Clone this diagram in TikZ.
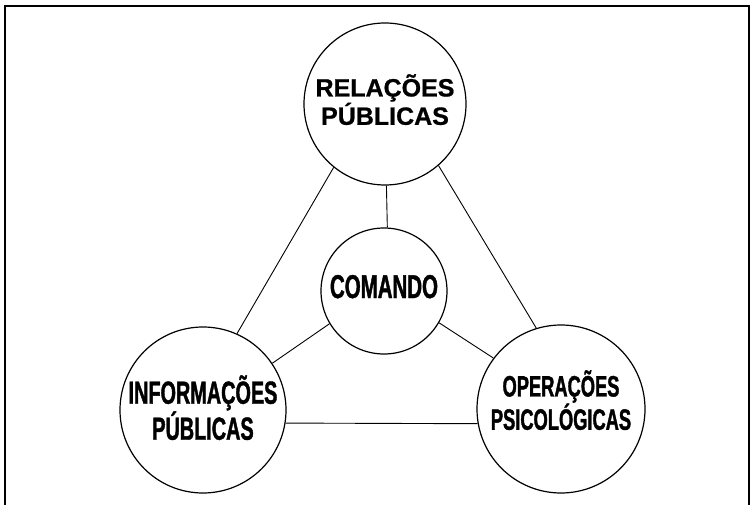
\documentclass[tikz,border=0pt]{standalone}
\usepackage{fontspec}
\newfontfamily\wideface{Liberation Sans}[FakeBold=0.8]
\newfontfamily\narrowface{Liberation Sans}[FakeStretch=0.62, FakeBold=1.2]
\usetikzlibrary{positioning}
\tikzset{
  every picture/.style={line width=0.9pt},
  area/.style={draw, circle, inner sep=0pt, align=center, line width=1.2pt},
  frame/.style={line width=2pt},
  link/.style={line width=0.9pt},
  every node/.style={font=\narrowface\bfseries}
}

\begin{document}
\begin{tikzpicture}[x=1pt, y=-1pt]
    \useasboundingbox (0,0) rectangle (752,505);
    \draw[frame] (5,506) |- (749,6) -- (749,506);

    \node[area, minimum size=162pt, text depth=9pt, font=\wideface\bfseries\fontsize{25}{25}\selectfont] (rp) at (385,104) {RELAÇÕES\\PÚBLICAS};
    \node[area, minimum size=126pt, text depth=9pt, font=\narrowface\bfseries\fontsize{33}{33}\selectfont] (cmd) at (384,291) {COMANDO};
    \node[area, minimum size=166pt, text depth=5pt, font=\narrowface\bfseries\fontsize{32}{33}\selectfont] (ip) at (203,410) {INFORMAÇÕES\\PÚBLICAS};
    \node[area, minimum size=168pt, text depth=18pt, font=\narrowface\bfseries\fontsize{29.5}{30}\selectfont] (op) at (561,409) {OPERAÇÕES\\PSICOLÓGICAS};

    % outer triangle
    \draw[link] (rp.231) -- (ip.66);
    \draw[link] (rp.311) -- (op.107);
    \draw[link] (ip.351) -- (op.190);
    % spokes to the command
    \draw[link] (rp.271) -- (cmd.87);
    \draw[link] (cmd.211) -- (ip.34);
    \draw[link] (cmd.330) -- (op.143);
\end{tikzpicture}
\end{document}
